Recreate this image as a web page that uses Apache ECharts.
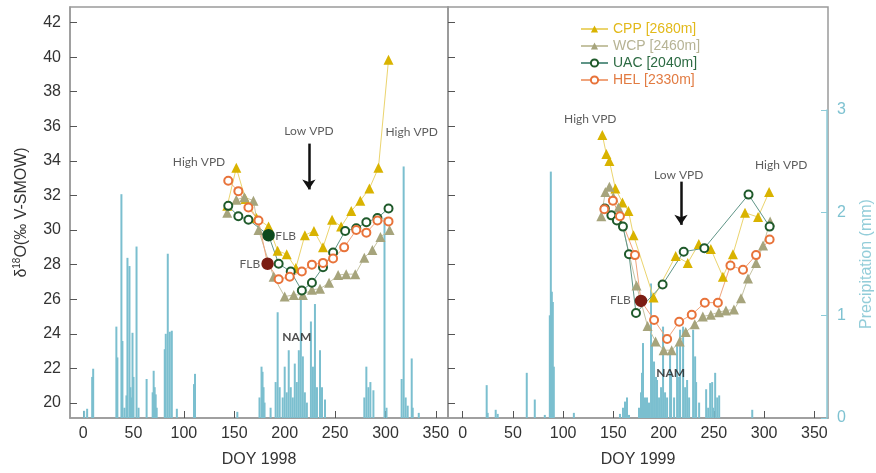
<!DOCTYPE html>
<html>
<head>
<meta charset="utf-8">
<script src="https://cdn.jsdelivr.net/npm/echarts@6/dist/echarts.min.js"></script>
<style>
html,body{margin:0;padding:0;background:#fff}
#main{width:876px;height:473px}
</style>
</head>
<body>
<div id="main"></div>
<script>
// tick labels
var doyTicks = [0, 50, 100, 150, 200, 250, 300, 350];
var isoTicks = [20, 22, 24, 26, 28, 30, 32, 34, 36, 38, 40, 42];
var precipTicks = [0, 1, 2, 3];

// d18O, 1998  [DOY, permil]
var cpp1998 = [[143,31.4],[152,33.6],[161,31.8],[172,30.7],[184,30.2],[193,28.8],[202,28.6],[211,27.8],[220,29.7],[229,29.95],[238,29.0],[247,30.6],[256,30.2],[266,31.1],[275,31.7],[284,32.4],[293,33.6],[303,39.85]];
var wcp1998 = [[143,31.0],[152,31.75],[160,31.9],[169,31.7],[174,30.0],[189,27.3],[200,26.15],[209,26.25],[218,26.25],[227,26.55],[235,26.6],[244,26.95],[253,27.4],[261,27.45],[270,27.45],[279,28.4],[287,28.85],[295,29.6],[304,30.0]];
var uac1998 = [[144,31.4],[154,30.8],[164,30.6],[184,29.7],[194,28.05],[206,27.6],[217,26.5],[227,26.95],[238,27.85],[248,28.7],[260,29.95],[271,30.1],[281,30.45],[292,30.7],[303,31.25]];
var hel1998 = [[144,32.85],[154,32.25],[164,31.3],[174,30.55],[183,28.05],[194,27.15],[205,27.3],[217,27.6],[227,28.0],[238,28.1],[248,28.35],[259,29.0],[271,30.0],[281,29.85],[292,30.55],[303,30.5]];

// d18O, 1999
var cpp1999 = [[139,35.5],[143,34.4],[146,34.0],[152,32.4],[159,31.6],[165,31.1],[170,29.7],[190,26.1],[212,28.5],[224,28.1],[235,29.2],[247,28.9],[259,27.3],[269,28.6],[281,31.0],[294,30.75],[305,32.2]];
var wcp1999 = [[138,30.8],[142,32.2],[146,32.5],[150,31.9],[155,31.3],[173,26.8],[184,24.45],[192,23.55],[200,23.05],[208,23.05],[216,23.55],[222,24.1],[231,24.55],[239,25.0],[247,25.1],[255,25.25],[262,25.35],[270,25.4],[277,26.05],[284,27.2],[292,28.1],[299,29.1],[306,30.5]];
var uac1999 = [[141.5,31.25],[148,30.85],[153.5,30.55],[159.5,30.2],[165.5,28.6],[172.5,25.2],[199,26.85],[220,28.75],[240.5,28.95],[284.5,32.05],[305.5,30.2]];
var hel1999 = [[141,31.2],[149.5,31.7],[156.5,30.8],[171.5,28.55],[177.5,25.9],[190.5,24.8],[203.5,23.7],[215.5,24.7],[228,25.1],[241,25.8],[254,25.8],[266.5,27.95],[279,27.7],[292,28.55],[305.5,29.45]];

// index of the FLB sample in each series
var flbUac1998 = 3;
var flbHel1998 = 4;
var flbHel1999 = 4;

// precipitation  [DOY, mm]
var precip1998 = [[1,0.07],[4,0.09],[9,0.4],[10,0.48],[33,0.89],[34,0.59],[38,2.18],[39,0.75],[41,0.1],[43,0.22],[44,1.56],[46,1.48],[47,0.3],[48,0.2],[49,0.83],[50,0.4],[53,1.67],[55,0.1],[63,0.38],[69,0.25],[70,0.46],[71,0.3],[72,0.23],[73,0.1],[81,0.67],[82,0.82],[84,1.6],[86,0.84],[88,0.85],[93,0.09],[110,0.33],[111,0.43],[153,0.06],[175,0.2],[177,0.5],[178,0.45],[179,0.3],[180,0.15],[186,0.1],[191,0.35],[193,1.03],[195,0.3],[198,0.2],[200,0.5],[202,0.25],[204,0.66],[206,0.3],[208,0.2],[210,0.53],[212,0.35],[214,0.66],[216,1.18],[218,0.6],[220,0.25],[222,0.15],[226,0.94],[228,0.5],[230,1.11],[232,0.3],[235,0.66],[237,0.3],[240,0.18],[279,0.2],[281,0.5],[283,0.3],[285,0.35],[288,0.27],[299,1.95],[301,0.1],[316,0.38],[318,2.45],[320,0.2],[322,0.12],[326,0.58],[327,0.1],[333,0.05]];
var precip1999 = [[24,0.32],[25,0.05],[33,0.08],[35,0.04],[64,0.44],[72,0.18],[82,0.03],[87,1.0],[88,2.4],[89,1.23],[90,1.13],[91,0.5],[111,0.05],[157,0.04],[160,0.1],[162,0.16],[164,0.2],[166,0.03],[176,0.1],[178,0.25],[179,0.44],[180,0.73],[182,0.2],[184,0.2],[186,0.15],[188,1.31],[189,0.71],[191,0.55],[193,0.4],[194,0.37],[196,0.2],[198,0.3],[200,0.89],[202,0.25],[204,0.2],[207,0.63],[208,0.45],[211,0.2],[214,0.7],[216,0.4],[217,0.86],[220,0.89],[222,0.3],[224,0.37],[226,0.2],[230,0.86],[232,0.6],[233,0.35],[236,0.15],[243,0.28],[245,0.1],[247,0.34],[249,0.35],[250,0.1],[252,0.44],[254,0.2],[256,0.22],[289,0.08]];

// annotations  [text, DOY, permil]
var notes1998 = [['High VPD',115,33.95],['Low VPD',224,35.75],['High VPD',326,35.65],['FLB',201,29.65],['FLB',165.5,28.05],['NAM',212,23.8]];
var notes1999 = [['High VPD',127,36.4],['Low VPD',215,33.15],['High VPD',317,33.75],['FLB',157,25.95],['NAM',207,21.75]];
var arrow1998 = [[224,35.0],[224,32.35]];
var arrow1999 = [[217.3,32.8],[217.3,30.3]];

var names = ['CPP [2680m]', 'WCP [2460m]', 'UAC [2040m]', 'HEL [2330m]'];
var styles = {
    'CPP [2680m]': {symbol: 'triangle', size: 10, color: '#d9b300', line: '#ebd46e', text: '#e2b91a'},
    'WCP [2460m]': {symbol: 'triangle', size: 10, color: '#a6a47c', line: '#c5c3a3', text: '#b6b394'},
    'UAC [2040m]': {symbol: 'emptyCircle', size: 8, color: '#1f5a2b', line: '#5f9587', text: '#2c6a42'},
    'HEL [2330m]': {symbol: 'emptyCircle', size: 8, color: '#e8733a', line: '#f0a47c', text: '#e27b42'}
};

function lineSeries(name, data, idx, flbIndex, flbColor) {
    var s = styles[name];
    return {
        name: name,
        type: 'line',
        xAxisIndex: idx,
        yAxisIndex: idx,
        symbol: s.symbol,
        symbolSize: s.size,
        z: 3,
        itemStyle: {color: s.color, borderColor: s.color, borderWidth: s.symbol === 'emptyCircle' ? 2.5 : 0},
        lineStyle: {color: s.line, width: 1},
        data: data.map(function (d, i) {
            if (i === flbIndex) {
                return {value: d, symbol: 'circle', symbolSize: 10,
                    itemStyle: {color: flbColor, borderColor: flbColor}};
            }
            return d;
        })
    };
}

function noteSeries(notes, arrow, idx) {
    return {
        type: 'scatter',
        xAxisIndex: idx,
        yAxisIndex: idx,
        symbolSize: 1,
        silent: true,
        z: 10,
        itemStyle: {color: 'rgba(0,0,0,0)'},
        label: {show: true, position: 'inside', formatter: '{b}', color: '#333',
            fontFamily: 'Lato', fontSize: 12},
        data: notes.map(function (n) {
            var item = {name: n[0], value: [n[1], n[2]]};
            if (n[0] === 'NAM') item.label = {fontWeight: 'bold', color: '#222'};
            return item;
        }),
        markLine: {
            silent: true,
            animation: false,
            symbol: ['none', 'arrow'],
            symbolSize: 10,
            label: {show: false},
            lineStyle: {color: '#111', width: 2.5, type: 'solid'},
            data: [[{coord: arrow[0]}, {coord: arrow[1]}]]
        }
    };
}

function barSeries(data, idx) {
    return {
        type: 'bar',
        xAxisIndex: idx,
        yAxisIndex: idx,
        barWidth: 2,
        silent: true,
        z: 1,
        itemStyle: {color: '#7bbfcf'},
        data: data
    };
}

var frame = '#9a9a9a';
function doyAxis(idx, min, max, title) {
    return {
        type: 'value', gridIndex: idx, min: min, max: max,
        name: title, nameLocation: 'middle', nameGap: 34,
        nameTextStyle: {fontSize: 16, color: '#333', fontFamily: 'Liberation Sans'},
        axisLine: {onZero: false, lineStyle: {color: frame, width: 1.5}},
        axisTick: {inside: true, length: 7, customValues: doyTicks, lineStyle: {color: '#555'}},
        axisLabel: {customValues: doyTicks, fontSize: 16, color: '#333', margin: 8, fontFamily: 'Liberation Sans'},
        splitLine: {show: false}
    };
}
function isoAxis(idx, labels) {
    return {
        type: 'value', gridIndex: idx, min: 19.13, max: 42.9,
        name: labels ? '{d|δ}{s|18}{d|O(‰ V-SMOW)}' : '',
        nameLocation: 'middle', nameGap: 40,
        nameTextStyle: {rich: {
            d: {fontSize: 16, lineHeight: 18, verticalAlign: 'bottom', color: '#333', fontFamily: 'Liberation Sans'},
            s: {fontSize: 10, lineHeight: 10, verticalAlign: 'top', color: '#333', fontFamily: 'Liberation Sans'}
        }},
        axisLine: {show: true, onZero: false, lineStyle: {color: frame, width: 1.5}},
        axisTick: {inside: true, length: 7, customValues: isoTicks, lineStyle: {color: '#555'}},
        axisLabel: {show: labels, customValues: isoTicks, fontSize: 16, color: '#333', margin: 9, fontFamily: 'Liberation Sans'},
        splitLine: {show: false}
    };
}

var chart = echarts.init(document.getElementById('main'));
chart.setOption({
    animation: false,
    backgroundColor: '#fff',
    grid: [
        {left: 70, top: 7, width: 378, height: 411, show: true, borderColor: frame, borderWidth: 1.5},
        {left: 448, top: 7, width: 380, height: 411, show: true, borderColor: frame, borderWidth: 1.5},
        {left: 70, top: 110, width: 378, height: 308},
        {left: 448, top: 110, width: 380, height: 308}
    ],
    xAxis: [
        doyAxis(0, -13, 362, 'DOY 1998'),
        doyAxis(1, -14.6, 363.6, 'DOY 1999'),
        {type: 'value', gridIndex: 2, min: -13, max: 362, show: false},
        {type: 'value', gridIndex: 3, min: -14.6, max: 363.6, show: false}
    ],
    yAxis: [
        isoAxis(0, true),
        isoAxis(1, false),
        {type: 'value', gridIndex: 2, min: 0, max: 3, show: false},
        {
            type: 'value', gridIndex: 3, min: 0, max: 3, interval: 1, position: 'right', z: 5,
            name: 'Precipitation (mm)', nameLocation: 'middle', nameRotate: 90, nameGap: 32,
            nameTextStyle: {fontSize: 16, color: '#93cdd9', fontFamily: 'Liberation Sans'},
            axisLine: {show: true, onZero: false, lineStyle: {color: '#8ecbd8', width: 1.5}},
            axisTick: {show: true, inside: true, length: 6, customValues: precipTicks, lineStyle: {color: '#8ecbd8'}},
            axisLabel: {customValues: precipTicks, fontSize: 16, color: '#7ec2d1', margin: 10, fontFamily: 'Liberation Sans'},
            splitLine: {show: false}
        }
    ],
    legend: {
        data: names.map(function (n) { return {name: n, textStyle: {color: styles[n].text}}; }),
        orient: 'vertical', left: 575, top: 17,
        itemWidth: 27, itemHeight: 9, itemGap: 3,
        textStyle: {fontSize: 14, lineHeight: 14, fontFamily: 'Liberation Sans'}
    },
    series: [
        barSeries(precip1998, 2),
        barSeries(precip1999, 3),
        lineSeries(names[0], cpp1998, 0),
        lineSeries(names[1], wcp1998, 0),
        lineSeries(names[2], uac1998, 0, flbUac1998, '#0d4a1e'),
        lineSeries(names[3], hel1998, 0, flbHel1998, '#7b1c12'),
        lineSeries(names[0], cpp1999, 1),
        lineSeries(names[1], wcp1999, 1),
        lineSeries(names[2], uac1999, 1),
        lineSeries(names[3], hel1999, 1, flbHel1999, '#7b1c12'),
        noteSeries(notes1998, arrow1998, 0),
        noteSeries(notes1999, arrow1999, 1)
    ]
});
</script>
</body>
</html>
